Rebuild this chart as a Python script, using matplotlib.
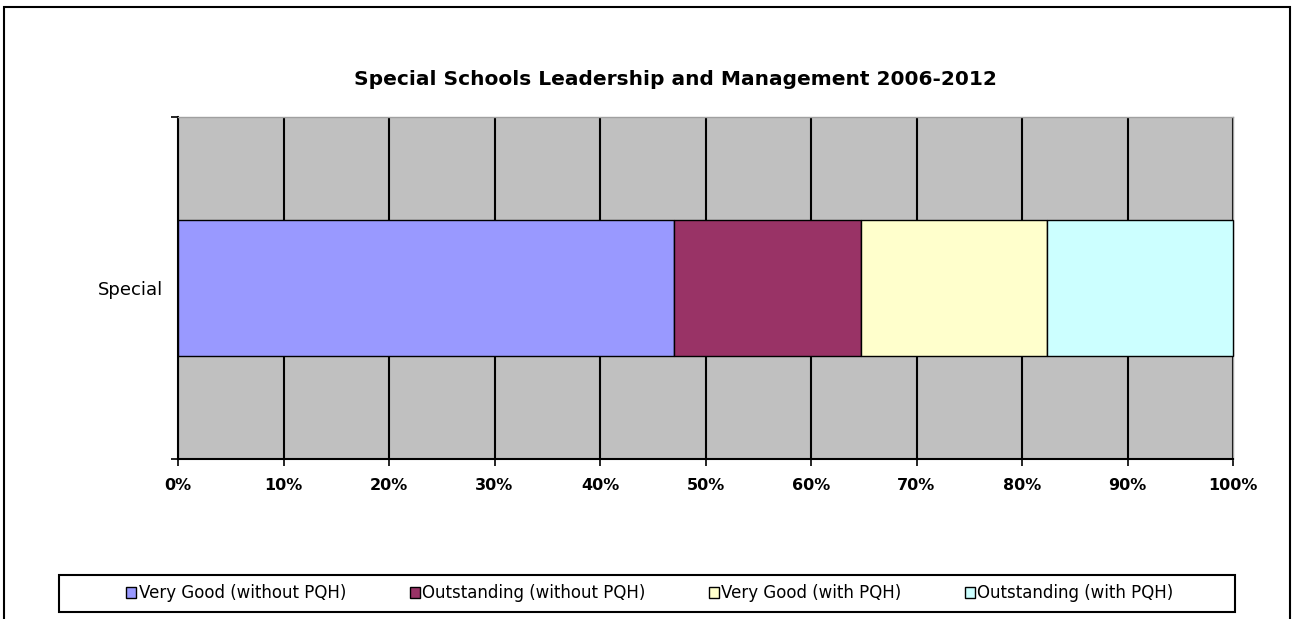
import matplotlib
matplotlib.use("Agg")
import matplotlib.pyplot as plt
from matplotlib.patches import Rectangle
from matplotlib.ticker import PercentFormatter

plt.rcParams["font.family"] = ["DejaVu Sans"]

# data (counts of schools, plotted as 100% stacked)
category = ["Special"]
series = ["Very Good (without PQH)", "Outstanding (without PQH)",
          "Very Good (with PQH)", "Outstanding (with PQH)"]
counts = [8, 3, 3, 3]
colors = ["#9999FF", "#993366", "#FFFFCC", "#CCFFFF"]

total = sum(counts)
shares = [c / total * 100 for c in counts]

W, H = 1293, 619
fig = plt.figure(figsize=(W / 100, H / 100), dpi=100)
ax = fig.add_axes([178 / W, 1 - 459 / H, 1055 / W, 342 / H])
ax.set_facecolor("#C0C0C0")

left = 0
for name, val, col in zip(series, shares, colors):
    ax.barh(category, [val], left=left, height=0.4, color=col,
            edgecolor="black", linewidth=1, label=name, zorder=3, clip_on=False)
    left += val

ax.set_xlim(0, 100)
ax.set_ylim(-0.5, 0.5)
ax.set_xticks(range(0, 101, 10))
ax.xaxis.set_major_formatter(PercentFormatter(decimals=0))
ax.grid(axis="x", color="black", linewidth=1.5, zorder=1)
ax.set_axisbelow(True)

for s in ["top", "right"]:
    ax.spines[s].set_color("#A0A0A0")
    ax.spines[s].set_linewidth(1)
for s in ["left", "bottom"]:
    ax.spines[s].set_color("black")
    ax.spines[s].set_linewidth(1.5)

ax.tick_params(axis="x", direction="out", length=5, width=1.2, pad=9, labelsize=11.5)
for lbl in ax.get_xticklabels():
    lbl.set_fontweight("bold")
ax.set_yticks([-0.5, 0.5], minor=True)
ax.tick_params(axis="y", which="minor", direction="out", length=5, width=1.2)
ax.tick_params(axis="y", which="major", length=0, pad=11, labelsize=13)

fig.text(675 / W, 1 - 85 / H, "Special Schools Leadership and Management 2006-2012",
         ha="center", va="baseline", fontsize=14.5, fontweight="bold")

# legend box drawn separately, legend entries centred inside it
fig.patches.append(Rectangle((59 / W, 1 - 612 / H), 1176 / W, 37 / H,
                             transform=fig.transFigure, fill=False,
                             edgecolor="black", linewidth=1.5))
fig.legend(loc="center", bbox_to_anchor=(650 / W, 1 - 593.5 / H),
           ncol=4, fontsize=12, handlelength=0.6, handleheight=0.6,
           handletextpad=0.15, columnspacing=3.8, borderpad=0, frameon=False)

# outer chart border
fig.patches.append(Rectangle((4 / W, -0.1), 1286 / W, 1.1 - 7 / H,
                             transform=fig.transFigure, fill=False,
                             edgecolor="black", linewidth=1.5))

fig.savefig("out.png", dpi=100)
